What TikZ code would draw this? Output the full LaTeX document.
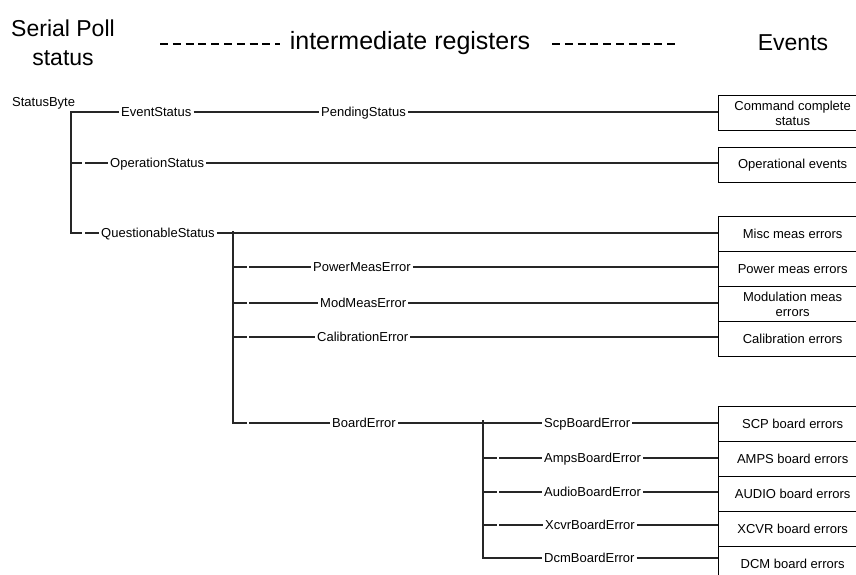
\documentclass[tikz,border=0pt]{standalone}
\usepackage{fontspec}
\setmainfont{Liberation Sans}
\usepackage{tikz}

\newcommand{\regfont}{\fontsize{13}{15}\selectfont}
\newcommand{\headfont}{\fontsize{23}{27}\selectfont}

\begin{document}
\begin{tikzpicture}[x=1pt, y=-1pt,
    tree/.style={line width=1.3pt, black!85},
    reg/.style={font=\regfont, anchor=west, inner sep=2pt, text height=9.4pt, text depth=0pt},
    evbox/.style={draw, line width=1.3pt, anchor=north west, minimum width=148pt,
        minimum height=35pt, inner sep=1pt, align=center, font=\regfont},
    head/.style={font=\headfont, anchor=base},
    sep/.style={line width=2.5pt, dash pattern=on 8pt off 4.8pt}]
    \useasboundingbox (0,0) rectangle (856,574);
    \clip (0,0) rectangle (856,574);

    % headings
    \node[head] (serial) at (63,36) {Serial Poll};
    \node[head] (spstatus) at (63,65) {status};
    \node[head, font=\fontsize{25}{29}\selectfont] (inter) at (410,49) {intermediate registers};
    \node[head] (events) at (793,50) {Events};
    \coordinate (dl1) at (160,44);
    \coordinate (dl2) at (280,44);
    \coordinate (dr1) at (552,44);
    \coordinate (dr2) at (677,44);
    \draw[sep] (dl1) -- (dl2);
    \draw[sep] (dr1) -- (dr2);

    % registers
    \node[reg] (sb) at (10,102) {StatusByte};
    \node[reg] (evs) at (119,112) {EventStatus};
    \node[reg] (pend) at (319,112) {PendingStatus};
    \node[reg] (ops) at (108,163) {OperationStatus};
    \node[reg] (qs) at (99,233) {QuestionableStatus};
    \node[reg] (pme) at (311,267) {PowerMeasError};
    \node[reg] (mme) at (318,303) {ModMeasError};
    \node[reg] (cal) at (315,337) {CalibrationError};
    \node[reg] (brd) at (330,423) {BoardError};
    \node[reg] (scp) at (542,423) {ScpBoardError};
    \node[reg] (amps) at (542,458) {AmpsBoardError};
    \node[reg] (audio) at (542,492) {AudioBoardError};
    \node[reg] (xcvr) at (543,525) {XcvrBoardError};
    \node[reg] (dcm) at (542,558) {DcmBoardError};

    % events
    \node[evbox] (cmdc) at (718,95) {Command complete\\status};
    \node[evbox] (opev) at (718,147) {Operational events};
    \node[evbox] (misc) at (718,216) {Misc meas errors};
    \node[evbox] (powe) at (718,251) {Power meas errors};
    \node[evbox] (mode) at (718,286) {Modulation meas\\errors};
    \node[evbox] (cale) at (718,321) {Calibration errors};
    \node[evbox] (scpe) at (718,406) {SCP board errors};
    \node[evbox] (ampe) at (718,441) {AMPS board errors};
    \node[evbox] (aude) at (718,476) {AUDIO board errors};
    \node[evbox] (xcve) at (718,511) {XCVR board errors};
    \node[evbox] (dcme) at (718,546) {DCM board errors};

    % branch points
    \coordinate (a1) at (71,112);
    \coordinate (a2) at (71,163);
    \coordinate (a3) at (71,233);
    \coordinate (b0) at (233,231);
    \coordinate (b1) at (233,267);
    \coordinate (b2) at (233,303);
    \coordinate (b3) at (233,337);
    \coordinate (b4) at (233,423);
    \coordinate (c0) at (483,420);
    \coordinate (c2) at (483,458);
    \coordinate (c3) at (483,492);
    \coordinate (c4) at (483,525);
    \coordinate (c5) at (483,558);

    % StatusByte trunk
    \draw[tree] (evs.west) -- (a1) -- (a3) -- ++(11,0);
    \draw[tree] (a2) -- ++(11,0);
    \draw[tree] ([xshift=14pt]a2) -- (ops.west);
    \draw[tree] ([xshift=14pt]a3) -- (qs.west);
    \draw[tree] (evs.east) -- (pend.west);
    \draw[tree] (pend.east) -- (pend.east -| cmdc.west);
    \draw[tree] (ops.east) -- (ops.east -| opev.west);
    \draw[tree] (qs.east) -- (qs.east -| misc.west);

    % QuestionableStatus trunk
    \draw[tree] (b0) -- (b4) -- ++(14,0);
    \draw[tree] (b1) -- ++(14,0);
    \draw[tree] (b2) -- ++(14,0);
    \draw[tree] (b3) -- ++(14,0);
    \draw[tree] ([xshift=16pt]b1) -- (pme.west);
    \draw[tree] ([xshift=16pt]b2) -- (mme.west);
    \draw[tree] ([xshift=16pt]b3) -- (cal.west);
    \draw[tree] ([xshift=16pt]b4) -- (brd.west);
    \draw[tree] (pme.east) -- (pme.east -| powe.west);
    \draw[tree] (mme.east) -- (mme.east -| mode.west);
    \draw[tree] (cal.east) -- (cal.east -| cale.west);

    % BoardError trunk
    \draw[tree] (brd.east) -- (scp.west);
    \draw[tree] (c0) -- (c5) -- (dcm.west);
    \draw[tree] (c2) -- ++(14,0);
    \draw[tree] (c3) -- ++(14,0);
    \draw[tree] (c4) -- ++(14,0);
    \draw[tree] ([xshift=16pt]c2) -- (amps.west);
    \draw[tree] ([xshift=16pt]c3) -- (audio.west);
    \draw[tree] ([xshift=16pt]c4) -- (xcvr.west);
    \draw[tree] (scp.east) -- (scp.east -| scpe.west);
    \draw[tree] (amps.east) -- (amps.east -| ampe.west);
    \draw[tree] (audio.east) -- (audio.east -| aude.west);
    \draw[tree] (xcvr.east) -- (xcvr.east -| xcve.west);
    \draw[tree] (dcm.east) -- (dcm.east -| dcme.west);

\end{tikzpicture}
\end{document}
